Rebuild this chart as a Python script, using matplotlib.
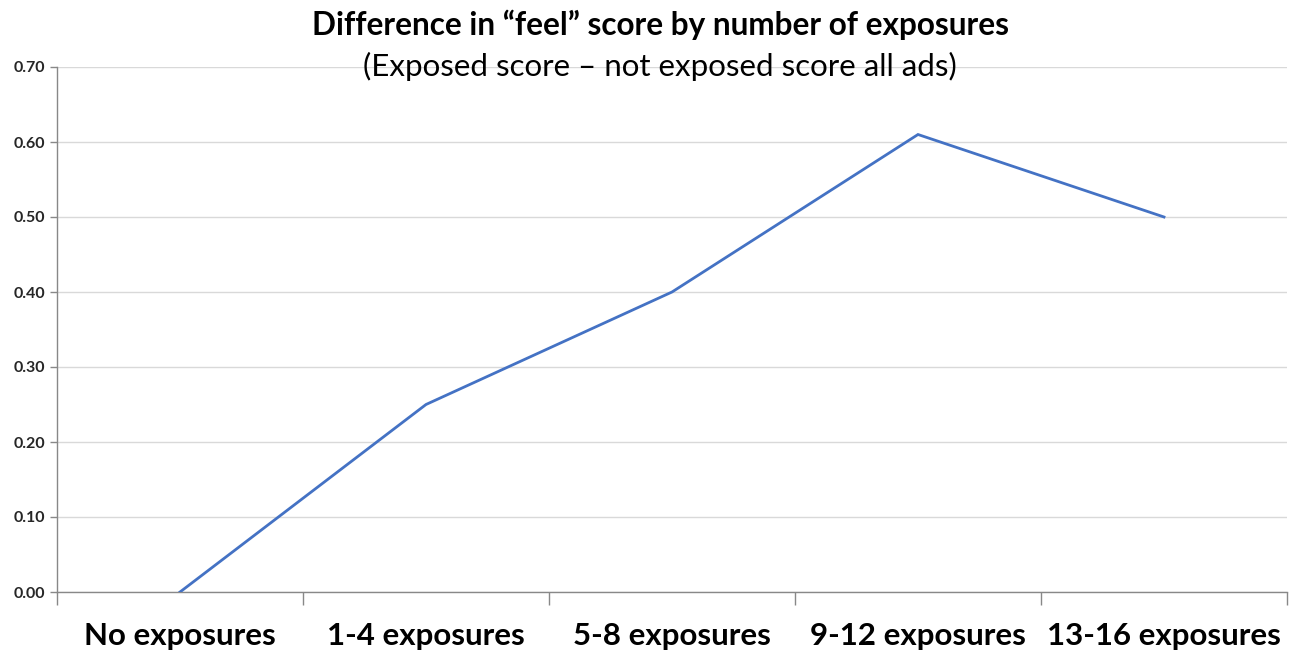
import matplotlib
matplotlib.use("Agg")
import matplotlib.pyplot as plt
from matplotlib.ticker import FixedLocator, FormatStrFormatter

categories = ["No exposures", "1-4 exposures", "5-8 exposures", "9-12 exposures", "13-16 exposures"]
feel_diff = [0.00, 0.25, 0.40, 0.61, 0.50]
y_ticks = [0.0, 0.1, 0.2, 0.3, 0.4, 0.5, 0.6, 0.7]

plt.rcParams["font.family"] = ["Lato", "DejaVu Sans"]

fig = plt.figure(figsize=(12.93, 6.53), dpi=100)
W, H = 1293, 653
ax = fig.add_axes([57 / W, 1 - 592 / H, (1287 - 57) / W, (592 - 67) / H])

x = list(range(len(categories)))
ax.plot(x, feel_diff, color="#4472C4", linewidth=2.0, solid_joinstyle="miter", zorder=3)

ax.set_xlim(-0.5, len(categories) - 0.5)
ax.set_ylim(0, 0.7)

ax.yaxis.set_major_locator(FixedLocator(y_ticks))
ax.yaxis.set_major_formatter(FormatStrFormatter("%.2f"))
ax.grid(axis="y", color="#d9d9d9", linewidth=1.0, zorder=0)
ax.set_axisbelow(True)

# category boundary ticks on the x axis, labels centred between them
ax.set_xticks([i - 0.5 for i in range(len(categories) + 1)])
ax.set_xticklabels([])
ax.set_xticks(x, minor=True)
ax.set_xticklabels(categories, minor=True, fontsize=22.5, fontweight="bold", color="#000000")
ax.tick_params(axis="x", which="major", length=9, width=1, color="#888888", direction="out")
ax.tick_params(axis="x", which="minor", length=0, pad=21.5)
ax.tick_params(axis="y", length=5, width=1, color="#888888", direction="out", pad=3.5,
               labelsize=11.5, labelcolor="#262626")
for lbl in ax.get_yticklabels():
    lbl.set_fontweight("bold")

for side in ("top", "right"):
    ax.spines[side].set_visible(False)
for side in ("left", "bottom"):
    ax.spines[side].set_color("#888888")
    ax.spines[side].set_linewidth(1.0)

fig.text(660 / W, 1 - 25 / H, "Difference in \u201cfeel\u201d score by number of exposures",
         ha="center", va="center", fontsize=22.7, fontweight="bold", color="#000000")
fig.text(660 / W, 1 - 66 / H, "(Exposed score \u2013 not exposed score all ads)",
         ha="center", va="center", fontsize=22.5, color="#000000")

fig.savefig("out.png", dpi=100, facecolor="white")
